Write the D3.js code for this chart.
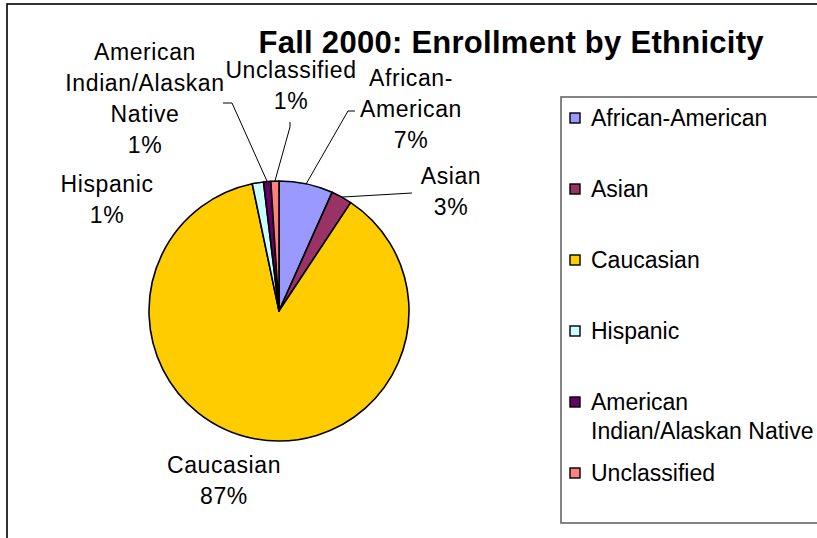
<!DOCTYPE html>
<html>
<head>
<meta charset="utf-8">
<script src="https://cdn.jsdelivr.net/npm/d3@7"></script>
<style>
  html, body { margin: 0; padding: 0; background: #fff; }
  svg { display: block; font-family: "Liberation Sans", Arial, sans-serif; }
</style>
</head>
<body>
<svg id="chart" width="817" height="538"></svg>
<script>
// Enrollment share by ethnicity, Fall 2000 (percent of total)
const categories = ["African-American", "Asian", "Caucasian", "Hispanic", "American Indian/Alaskan Native", "Unclassified"];
const shares = [6.7, 2.6, 87.4, 1.4, 0.9, 1.0];
const colors = ["#9999FF", "#993366", "#FFCC00", "#CCFFFF", "#660066", "#FF8080"];
const labelLines = [["African-", "American"], ["Asian"], ["Caucasian"], ["Hispanic"], ["American", "Indian/Alaskan", "Native"], ["Unclassified"]];
const legendLines = [["African-American"], ["Asian"], ["Caucasian"], ["Hispanic"], ["American", "Indian/Alaskan Native"], ["Unclassified"]];
const title = "Fall 2000: Enrollment by Ethnicity";

const W = 817, H = 538;
const cx = 279, cy = 311, R = 130;
const lineH = 31;
const textSize = 23, textSpacing = 0.6;

// Data label placement: centre x, first baseline, optional leader anchor points
const labelLayout = [
  { x: 411, y: 86,  leader: [[355, 111], [348, 111]] },
  { x: 451, y: 184, leader: [[412, 193]] },
  { x: 224, y: 473, leader: null },
  { x: 107, y: 192, leader: null },
  { x: 145, y: 60,  leader: [[223, 103], [232, 103]] },
  { x: 291, y: 78,  leader: [[290, 122], [290, 127]] }
];

const svg = d3.select("#chart");

// Outer chart frame (runs off the right and bottom edges)
svg.append("rect")
  .attr("x", 7).attr("y", 4).attr("width", W).attr("height", H)
  .attr("fill", "#fff").attr("stroke", "#000").attr("stroke-width", 1.6);

// Title
svg.append("text")
  .attr("x", 511).attr("y", 53)
  .attr("text-anchor", "middle")
  .attr("font-size", 31).attr("font-weight", "bold")
  .attr("textLength", 505).attr("lengthAdjust", "spacing")
  .text(title);

// Pie
const data = categories.map((c, i) => ({ name: c, value: shares[i], i }));
const pie = d3.pie().value(d => d.value).sort(null).startAngle(0).endAngle(2 * Math.PI);
const arcs = pie(data);
const arc = d3.arc().innerRadius(0).outerRadius(R);

const g = svg.append("g").attr("transform", `translate(${cx},${cy})`);
g.selectAll("path.slice")
  .data(arcs)
  .join("path")
  .attr("class", "slice")
  .attr("d", arc)
  .attr("fill", d => colors[d.data.i])
  .attr("stroke", "#000")
  .attr("stroke-width", 1.6)
  .attr("stroke-linejoin", "round");

// Leader lines: from label anchor to the middle of the slice's outer edge
const edgePoint = a => {
  const m = (a.startAngle + a.endAngle) / 2;
  return [cx + R * Math.sin(m), cy - R * Math.cos(m)];
};
arcs.forEach((a, i) => {
  const lay = labelLayout[i];
  if (!lay.leader) return;
  const pts = lay.leader.concat([edgePoint(a)]);
  svg.append("path")
    .attr("d", d3.line()(pts))
    .attr("fill", "none")
    .attr("stroke", "#000")
    .attr("stroke-width", 1);
});

// Data labels: category name plus rounded percentage
arcs.forEach((a, i) => {
  const lay = labelLayout[i];
  const lines = labelLines[i].concat([Math.round(shares[i]) + "%"]);
  const t = svg.append("text")
    .attr("text-anchor", "middle")
    .attr("font-size", textSize)
    .attr("letter-spacing", textSpacing)
    .attr("fill", "#000");
  lines.forEach((ln, k) => {
    t.append("tspan").attr("x", lay.x).attr("y", lay.y + k * lineH).text(ln);
  });
});

// Legend box (runs off the right edge)
svg.append("rect")
  .attr("x", 561).attr("y", 97).attr("width", 300).attr("height", 426)
  .attr("fill", "#fff").attr("stroke", "#666").attr("stroke-width", 1.6);

const legendY = d3.scalePoint().domain(categories).range([118, 473]);
categories.forEach((c, i) => {
  const y0 = legendY(c);
  svg.append("rect")
    .attr("x", 570).attr("y", y0 - 5).attr("width", 10).attr("height", 10)
    .attr("fill", colors[i]).attr("stroke", "#000").attr("stroke-width", 1.4);
  const t = svg.append("text")
    .attr("font-size", textSize)
    .attr("fill", "#000");
  legendLines[i].forEach((ln, k) => {
    t.append("tspan").attr("x", 591).attr("y", y0 + 8 + k * 29).text(ln);
  });
});
</script>
</body>
</html>
